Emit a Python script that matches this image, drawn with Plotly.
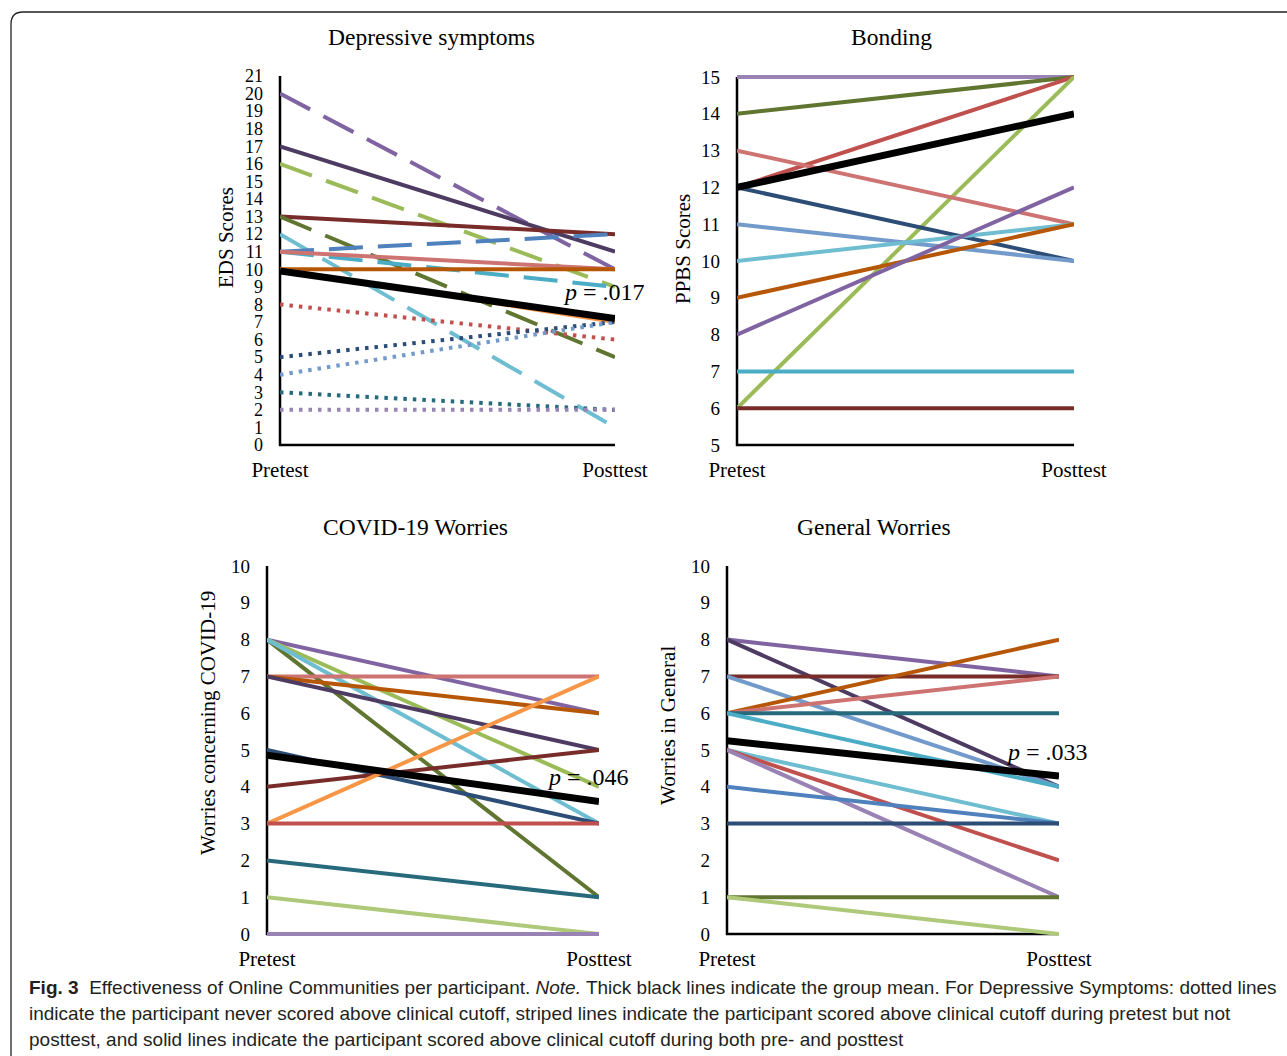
import plotly.graph_objects as go

W, H = 1287, 1056
SERIF = "Liberation Serif, Times New Roman, serif"
SANS = "Liberation Sans, Arial, sans-serif"

time_labels = ["Pretest", "Posttest"]

# ---------------- Depressive symptoms (EDS) ----------------
eds_pre = [20, 17, 16, 13, 13, 12, 11, 11, 11, 10, 10, 8, 5, 4, 3, 2]
eds_post = [10, 11, 9, 12, 5, 1, 12, 9, 10, 10, 7, 6, 7, 7, 2, 2]
eds_mean = [9.9, 7.2]
eds_ticks = list(range(0, 22))

# ---------------- Bonding (PPBS) ----------------
ppbs_pre = [15, 14, 12, 6, 13, 12, 11, 10, 9, 8, 7, 6]
ppbs_post = [15, 15, 15, 15, 11, 10, 10, 11, 11, 12, 7, 6]
ppbs_mean = [12.0, 14.0]
ppbs_ticks = list(range(5, 16))

# ---------------- COVID-19 Worries ----------------
covid_pre = [8, 8, 8, 8, 7, 7, 7, 5, 4, 3, 3, 2, 1, 0]
covid_post = [6, 1, 4, 3, 7, 6, 5, 3, 5, 7, 3, 1, 0, 0]
covid_mean = [4.86, 3.6]
covid_ticks = list(range(0, 11))

# ---------------- General Worries ----------------
gen_pre = [8, 8, 7, 7, 6, 6, 6, 6, 5, 5, 5, 4, 3, 1, 1]
gen_post = [7, 4, 7, 4, 8, 7, 6, 4, 3, 2, 1, 3, 3, 1, 0]
gen_mean = [5.25, 4.29]
gen_ticks = list(range(0, 11))

# ---------------- styles ----------------
eds_colors = ["#8064A2", "#4D3B62", "#9BBB59", "#772C2A", "#5F7530", "#6FBDD1",
              "#4F81BD", "#4BACC6", "#CD7371", "#B65708", "#F79646", "#C0504D",
              "#2C4D75", "#729ACA", "#276A7C", "#9983B5"]
eds_dashes = ["dash", "solid", "dash", "solid", "dash", "dash", "dash", "dash",
              "solid", "solid", "solid", "dot", "dot", "dot", "dot", "dot"]
ppbs_colors = ["#9983B5", "#5F7530", "#C0504D", "#9BBB59", "#CD7371", "#2C4D75",
               "#729ACA", "#6FBDD1", "#B65708", "#8064A2", "#4BACC6", "#772C2A"]
covid_colors = ["#8064A2", "#5F7530", "#9BBB59", "#6FBDD1", "#CD7371", "#B65708",
                "#4D3B62", "#2C4D75", "#772C2A", "#F79646", "#C0504D", "#276A7C",
                "#AFC97A", "#9983B5"]
gen_colors = ["#8064A2", "#4D3B62", "#772C2A", "#729ACA", "#B65708", "#CD7371",
              "#276A7C", "#4BACC6", "#6FBDD1", "#C0504D", "#9983B5", "#4F81BD",
              "#2C4D75", "#5F7530", "#AFC97A"]

DASH_MAP = {"solid": "solid", "dash": "34px,15px", "dot": "3.5px,6px"}

panels = [
    dict(title="Depressive symptoms", ytitle="EDS Scores", pre=eds_pre, post=eds_post,
         mean=eds_mean, colors=eds_colors, dashes=eds_dashes, ticks=eds_ticks,
         tick_size=18, box=(280, 615, 76, 445), title_xy=(431, 37), ytitle_xy=(226, 238),
         p_text="<i>p</i> = .017", p_xy=(604, 292)),
    dict(title="Bonding", ytitle="PPBS Scores", pre=ppbs_pre, post=ppbs_post,
         mean=ppbs_mean, colors=ppbs_colors, dashes=None, ticks=ppbs_ticks,
         tick_size=19, box=(737, 1074, 77, 445), title_xy=(891, 37), ytitle_xy=(683, 249),
         p_text=None, p_xy=None),
    dict(title="COVID-19 Worries", ytitle="Worries concerning COVID-19", pre=covid_pre,
         post=covid_post, mean=covid_mean, colors=covid_colors, dashes=None,
         ticks=covid_ticks, tick_size=19, box=(267, 599, 566, 934), title_xy=(415, 527),
         ytitle_xy=(208, 723), p_text="<i>p</i> = .046", p_xy=(588, 777)),
    dict(title="General Worries", ytitle="Worries in General", pre=gen_pre, post=gen_post,
         mean=gen_mean, colors=gen_colors, dashes=None, ticks=gen_ticks,
         tick_size=19, box=(727, 1059, 566, 934), title_xy=(874, 527),
         ytitle_xy=(668, 726), p_text="<i>p</i> = .033", p_xy=(1047, 752)),
]


def px(x):
    return x / W


def py(y):
    return 1 - y / H


fig = go.Figure()
annotations = []
shapes = []
PAD = 6

for i, p in enumerate(panels, start=1):
    xa, ya = f"x{i}", f"y{i}"
    n = len(p["pre"])
    for k in range(n):
        dash = DASH_MAP[p["dashes"][k]] if p["dashes"] else "solid"
        fig.add_trace(go.Scatter(
            x=[0, 1], y=[p["pre"][k], p["post"][k]], mode="lines",
            line=dict(color=p["colors"][k], width=4, dash=dash),
            xaxis=xa, yaxis=ya, showlegend=False, hoverinfo="skip"))
    fig.add_trace(go.Scatter(
        x=[0, 1], y=p["mean"], mode="lines", line=dict(color="#000000", width=7),
        xaxis=xa, yaxis=ya, showlegend=False, hoverinfo="skip"))

    x0, x1, yt, yb = p["box"]
    ymin, ymax = p["ticks"][0], p["ticks"][-1]
    scale = (yb - yt) / (ymax - ymin)
    ypad = PAD / scale
    sfx = "" if i == 1 else str(i)
    fig.layout["xaxis" + sfx] = dict(
        domain=[px(x0), px(x1)], range=[0, 1], anchor=ya, showgrid=False,
        zeroline=False, showline=False, ticks="", tickmode="array", tickvals=[0, 1],
        ticktext=time_labels, tickfont=dict(family=SERIF, size=21, color="black"),
        ticklabelstandoff=4, fixedrange=True, automargin=False)
    fig.layout["yaxis" + sfx] = dict(
        domain=[py(yb + PAD), py(yt - PAD)], range=[ymin - ypad, ymax + ypad],
        anchor=xa, showgrid=False, zeroline=False, showline=False, ticks="",
        tickmode="array", tickvals=p["ticks"], ticktext=[str(t) for t in p["ticks"]],
        tickfont=dict(family=SERIF, size=p["tick_size"], color="black"),
        ticklabelstandoff=16, fixedrange=True, automargin=False)
    # axis lines
    shapes.append(dict(type="line", xref="paper", yref="paper", x0=px(x0), x1=px(x0),
                       y0=py(yb + 1), y1=py(yt), line=dict(color="black", width=2.5),
                       layer="below"))
    shapes.append(dict(type="line", xref="paper", yref="paper", x0=px(x0 - 1), x1=px(x1),
                       y0=py(yb), y1=py(yb), line=dict(color="black", width=2.5),
                       layer="below"))
    annotations.append(dict(text=p["title"], xref="paper", yref="paper",
                            x=px(p["title_xy"][0]), y=py(p["title_xy"][1]),
                            xanchor="center", yanchor="middle", showarrow=False,
                            font=dict(family=SERIF, size=23.5, color="black")))
    annotations.append(dict(text=p["ytitle"], xref="paper", yref="paper",
                            x=px(p["ytitle_xy"][0]), y=py(p["ytitle_xy"][1]),
                            xanchor="center", yanchor="middle", textangle=-90,
                            showarrow=False,
                            font=dict(family=SERIF, size=21, color="black")))
    if p["p_text"]:
        annotations.append(dict(text=p["p_text"], xref="paper", yref="paper",
                                x=px(p["p_xy"][0]), y=py(p["p_xy"][1]),
                                xanchor="center", yanchor="middle", showarrow=False,
                                font=dict(family=SERIF, size=24, color="black")))

caption_lines = [
    "<b>Fig. 3</b>  Effectiveness of Online Communities per participant. <i>Note.</i> "
    "Thick black lines indicate the group mean. For Depressive Symptoms: dotted lines",
    "indicate the participant never scored above clinical cutoff, striped lines indicate "
    "the participant scored above clinical cutoff during pretest but not",
    "posttest, and solid lines indicate the participant scored above clinical cutoff "
    "during both pre- and posttest",
]
for j, line in enumerate(caption_lines):
    annotations.append(dict(text=line, xref="paper", yref="paper", x=px(27),
                            y=py(987 + 26 * j), xanchor="left", yanchor="middle",
                            showarrow=False,
                            font=dict(family=SANS, size=19, color="#231f20")))

# rounded frame (top-left corner)
frame = (f"M {px(11)} {py(1060)} L {px(11)} {py(24)} "
         f"Q {px(11)} {py(12)} {px(23)} {py(12)} L {px(1300)} {py(12)}")
shapes.append(dict(type="path", xref="paper", yref="paper", path=frame,
                   line=dict(color="#222222", width=1.3), layer="below"))

fig.update_layout(
    width=W, height=H, autosize=False,
    margin=dict(l=0, r=0, t=0, b=0, pad=0, autoexpand=False),
    paper_bgcolor="white", plot_bgcolor="rgba(0,0,0,0)",
    annotations=annotations, shapes=shapes, showlegend=False,
)

fig.write_html(
    "out.html",
    config={"displayModeBar": False, "responsive": False},
    post_script="document.body.style.margin='0';document.body.style.overflow='hidden';",
)
